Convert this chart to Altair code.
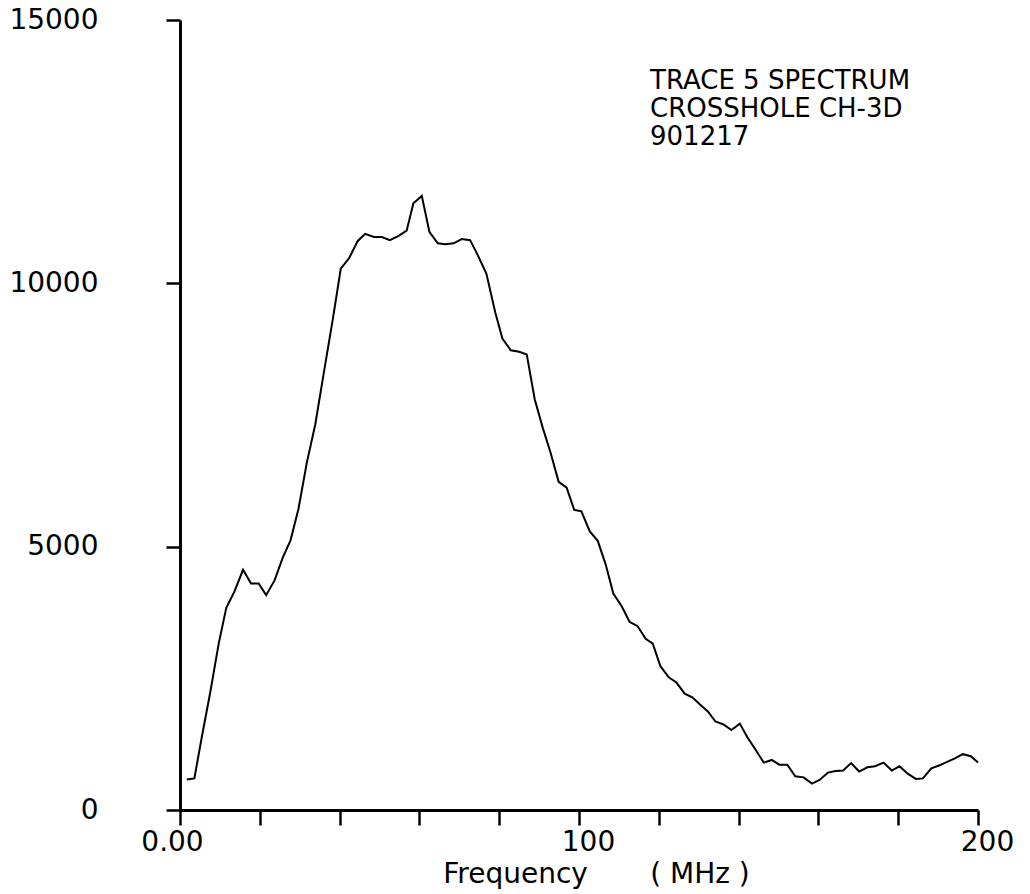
import altair as alt
import pandas as pd

# Frequency (MHz) and spectrum amplitude
freq = [1.7, 3.6, 5.5, 7.6, 9.7, 11.6, 13.6, 15.8, 17.8, 19.7,
        21.6, 23.7, 25.8, 27.7, 29.7, 31.8, 33.9, 36.0, 38.3, 40.3,
        42.4, 44.5, 46.4, 48.6, 50.6, 52.6, 54.8, 56.8, 58.5, 60.6,
        62.5, 64.6, 66.5, 68.6, 70.6, 72.7, 74.6, 76.8, 79.0, 80.8,
        82.9, 85.0, 86.9, 88.9, 90.9, 92.9, 94.9, 96.9, 98.8, 100.6,
        102.7, 104.7, 106.7, 108.6, 110.7, 112.7, 114.7, 116.7, 118.5, 120.4,
        122.5, 124.4, 126.5, 128.4, 130.4, 132.3, 134.2, 136.3, 138.2, 140.3,
        142.2, 144.3, 146.3, 148.3, 150.2, 152.2, 154.2, 156.3, 158.4, 160.3,
        162.4, 164.3, 166.2, 168.2, 170.2, 172.3, 174.2, 176.3, 178.4, 180.3,
        182.4, 184.4, 186.2, 188.3, 190.4, 192.4, 194.2, 196.2, 198.2, 200.0]

amp = [580, 600, 1400, 2240, 3160, 3840, 4140, 4560, 4300, 4300,
       4080, 4360, 4800, 5120, 5720, 6600, 7320, 8280, 9320, 10280,
       10480, 10800, 10940, 10880, 10880, 10820, 10900, 11000, 11520, 11660,
       10980, 10760, 10740, 10760, 10840, 10820, 10540, 10180, 9450, 8950,
       8730, 8700, 8650, 7800, 7260, 6780, 6230, 6120, 5700, 5670,
       5290, 5110, 4660, 4110, 3870, 3570, 3490, 3250, 3160, 2730,
       2520, 2420, 2210, 2140, 2000, 1870, 1680, 1620, 1520, 1640,
       1380, 1140, 900, 950, 860, 860, 640, 620, 500, 570,
       710, 740, 750, 890, 730, 810, 830, 900, 750, 830,
       690, 590, 600, 790, 850, 920, 980, 1060, 1020, 900]

x_ticks = [0, 20, 40, 60, 80, 100, 120, 140, 160, 180, 200]
y_ticks = [0, 5000, 10000, 15000]
note_lines = ["TRACE 5 SPECTRUM", "CROSSHOLE CH-3D", "901217"]
note_freq = [117.8, 117.8, 117.8]
note_amp = [13690, 13158, 12626]

df = pd.DataFrame({"freq": freq, "amp": amp})
note_df = pd.DataFrame({"freq": note_freq, "amp": note_amp, "label": note_lines})

FONT = "DejaVu Sans"
NB = "\u00a0"

x_axis = alt.Axis(
    values=x_ticks,
    labelExpr="datum.value == 0 ? '0.00' : (datum.value % 100 == 0 ? '' + datum.value : '')",
    tickSize=15, tickWidth=2.5, tickColor="black",
    domainWidth=3, domainColor="black",
    labelFont=FONT, labelFontSize=28, labelColor="black", labelPadding=3,
    labelFlush=False, labelOverlap=False,
    labelOffset={"condition": {"test": "datum.value == 0", "value": -8}, "value": 9},
    grid=False,
    title="Frequency" + NB * 7 + "(" + NB + "MHz" + NB + ")",
    titleFont=FONT, titleFontSize=28, titleFontWeight="normal", titleColor="black",
    titleX=416, titleY=72, titleAlign="center", titleBaseline="alphabetic",
)

y_axis = alt.Axis(
    values=y_ticks, format="d",
    tickSize=14, tickWidth=2.5, tickColor="black",
    domainWidth=3, domainColor="black",
    labelFont=FONT, labelFontSize=28, labelColor="black", labelPadding=68,
    labelAlign="right", labelBaseline="middle",
    labelFlush=False, labelOverlap=False,
    grid=False, title="",
)

line = alt.Chart(df).mark_line(color="black", strokeWidth=2).encode(
    x=alt.X("freq:Q", scale=alt.Scale(domain=[0, 200], nice=False, zero=False), axis=x_axis),
    y=alt.Y("amp:Q", scale=alt.Scale(domain=[0, 15000], nice=False), axis=y_axis),
)

note = alt.Chart(note_df).mark_text(
    align="left", baseline="alphabetic", font=FONT, fontSize=26, color="black",
).encode(
    x=alt.X("freq:Q"),
    y=alt.Y("amp:Q"),
    text=alt.Text("label:N"),
)

chart = alt.layer(line, note).properties(
    width=798, height=790,
    padding={"left": 180, "top": 20, "right": 52, "bottom": 84},
    autosize=alt.AutoSizeParams(type="none"),
    background="white",
).configure_view(stroke=None)

chart.save("out.html", embed_options={"renderer": "svg", "actions": False})
